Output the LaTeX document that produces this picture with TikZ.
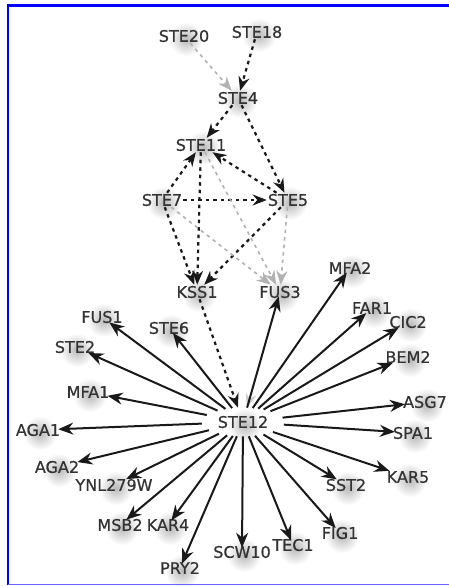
\documentclass[tikz,border=0pt]{standalone}
\usepackage{fontspec}
\setmainfont{DejaVu Sans}[FakeBold=0.6]
\usetikzlibrary{arrows.meta,shapes.geometric,backgrounds,fadings}

\tikzfading[name=halo, inner color=transparent!0, outer color=transparent!100]
\tikzset{
	gene/.style={font=\fontsize{16}{16}\selectfont, text=black!80, inner sep=1pt},
	hub/.style={gene, ellipse, inner sep=4pt},
	act/.style={-{Stealth[length=15pt,width=12pt]}, line width=2pt, black!90, shorten >=-3pt},
	sig/.style={-{Stealth[length=14pt,width=11pt]}, line width=2.2pt, dash pattern=on 3.5pt off 4pt, black!90},
	weak/.style={-{Stealth[length=14pt,width=11pt]}, line width=1.6pt, dash pattern=on 3.5pt off 4pt, black!30},
}

\begin{document}
\begin{tikzpicture}[x=1pt,y=-1pt]
	\useasboundingbox (0,0) rectangle (449,586);
	\draw[blue, line width=2.5pt] (470,5.3) -- (8.2,5.3) -- (8.2,585);
	\draw[blue!60, line width=1pt] (8.2,584.5) -- (470,584.5);

	% pheromone pathway
	\node[gene] (ste20) at (184,36) {STE20};
	\node[gene] (ste18) at (257,32) {STE18};
	\node[gene] (ste4) at (238,98) {STE4};
	\node[gene] (ste11) at (201,145) {STE11};
	\node[gene] (ste7) at (162,200) {STE7};
	\node[gene] (ste5) at (288,200) {STE5};
	\node[gene] (kss1) at (197,292) {KSS1};
	\node[gene] (fus3) at (280,292) {FUS3};
	\node[hub] (ste12) at (243,422) {STE12};

	% STE12 targets
	\node[gene] (mfa2) at (350,268) {MFA2};
	\node[gene] (far1) at (372,308) {FAR1};
	\node[gene] (cic2) at (408,322) {CIC2};
	\node[gene] (bem2) at (408,357) {BEM2};
	\node[gene] (asg7) at (425,402) {ASG7};
	\node[gene] (spa1) at (413,433) {SPA1};
	\node[gene] (kar5) at (408,477) {KAR5};
	\node[gene] (sst2) at (346,485) {SST2};
	\node[gene] (fig1) at (340,533) {FIG1};
	\node[gene] (tec1) at (293,545) {TEC1};
	\node[gene] (scw10) at (242,552) {SCW10};
	\node[gene] (pry2) at (180,568) {PRY2};
	\node[gene] (kar4) at (168,525) {KAR4};
	\node[gene] (msb2) at (120,525) {MSB2};
	\node[gene] (ynl279w) at (114,485) {YNL279W};
	\node[gene] (aga2) at (57,467) {AGA2};
	\node[gene] (aga1) at (38,430) {AGA1};
	\node[gene] (mfa1) at (88,392) {MFA1};
	\node[gene] (ste2) at (75,347) {STE2};
	\node[gene] (fus1) at (102,317) {FUS1};
	\node[gene] (ste6) at (169,328) {STE6};

	\begin{scope}[on background layer]
		\foreach \g in {ste20,ste18,ste4,ste11,ste7,ste5,kss1,fus3,ste12,mfa2,far1,cic2,bem2,asg7,spa1,kar5,sst2,fig1,tec1,scw10,pry2,kar4,msb2,ynl279w,aga2,aga1,mfa1,ste2,fus1,ste6}
			\fill[gray!55, path fading=halo] ([shift={(2,3)}]\g.center) circle[radius=17];
	\end{scope}

	\draw[weak] (ste20) -- (ste4);
	\draw[sig] (ste18) -- (ste4);
	\draw[sig] (ste4) -- (ste11);
	\draw[sig] (ste4) -- (ste5);
	\draw[sig] (ste5) -- (ste11);
	\draw[sig] (ste7) -- (ste11);
	\draw[sig] (ste7) -- (ste5);
	\draw[sig] (ste7) -- (kss1);
	\draw[sig] (ste11) -- (kss1);
	\draw[sig] (ste5) -- (kss1);
	\draw[weak] (ste11) -- (fus3);
	\draw[weak] (ste7) -- (fus3);
	\draw[weak] (ste5) -- (fus3);
	\draw[sig] (kss1) -- (ste12);
	\draw[weak, black!20, line width=1.2pt] (fus3) -- (ste12);

	\foreach \g in {fus3,mfa2,far1,cic2,bem2,asg7,spa1,kar5,sst2,fig1,tec1,scw10,pry2,kar4,msb2,ynl279w,aga2,aga1,mfa1,ste2,fus1,ste6}
		\draw[act] (ste12) -- (\g);
\end{tikzpicture}
\end{document}
